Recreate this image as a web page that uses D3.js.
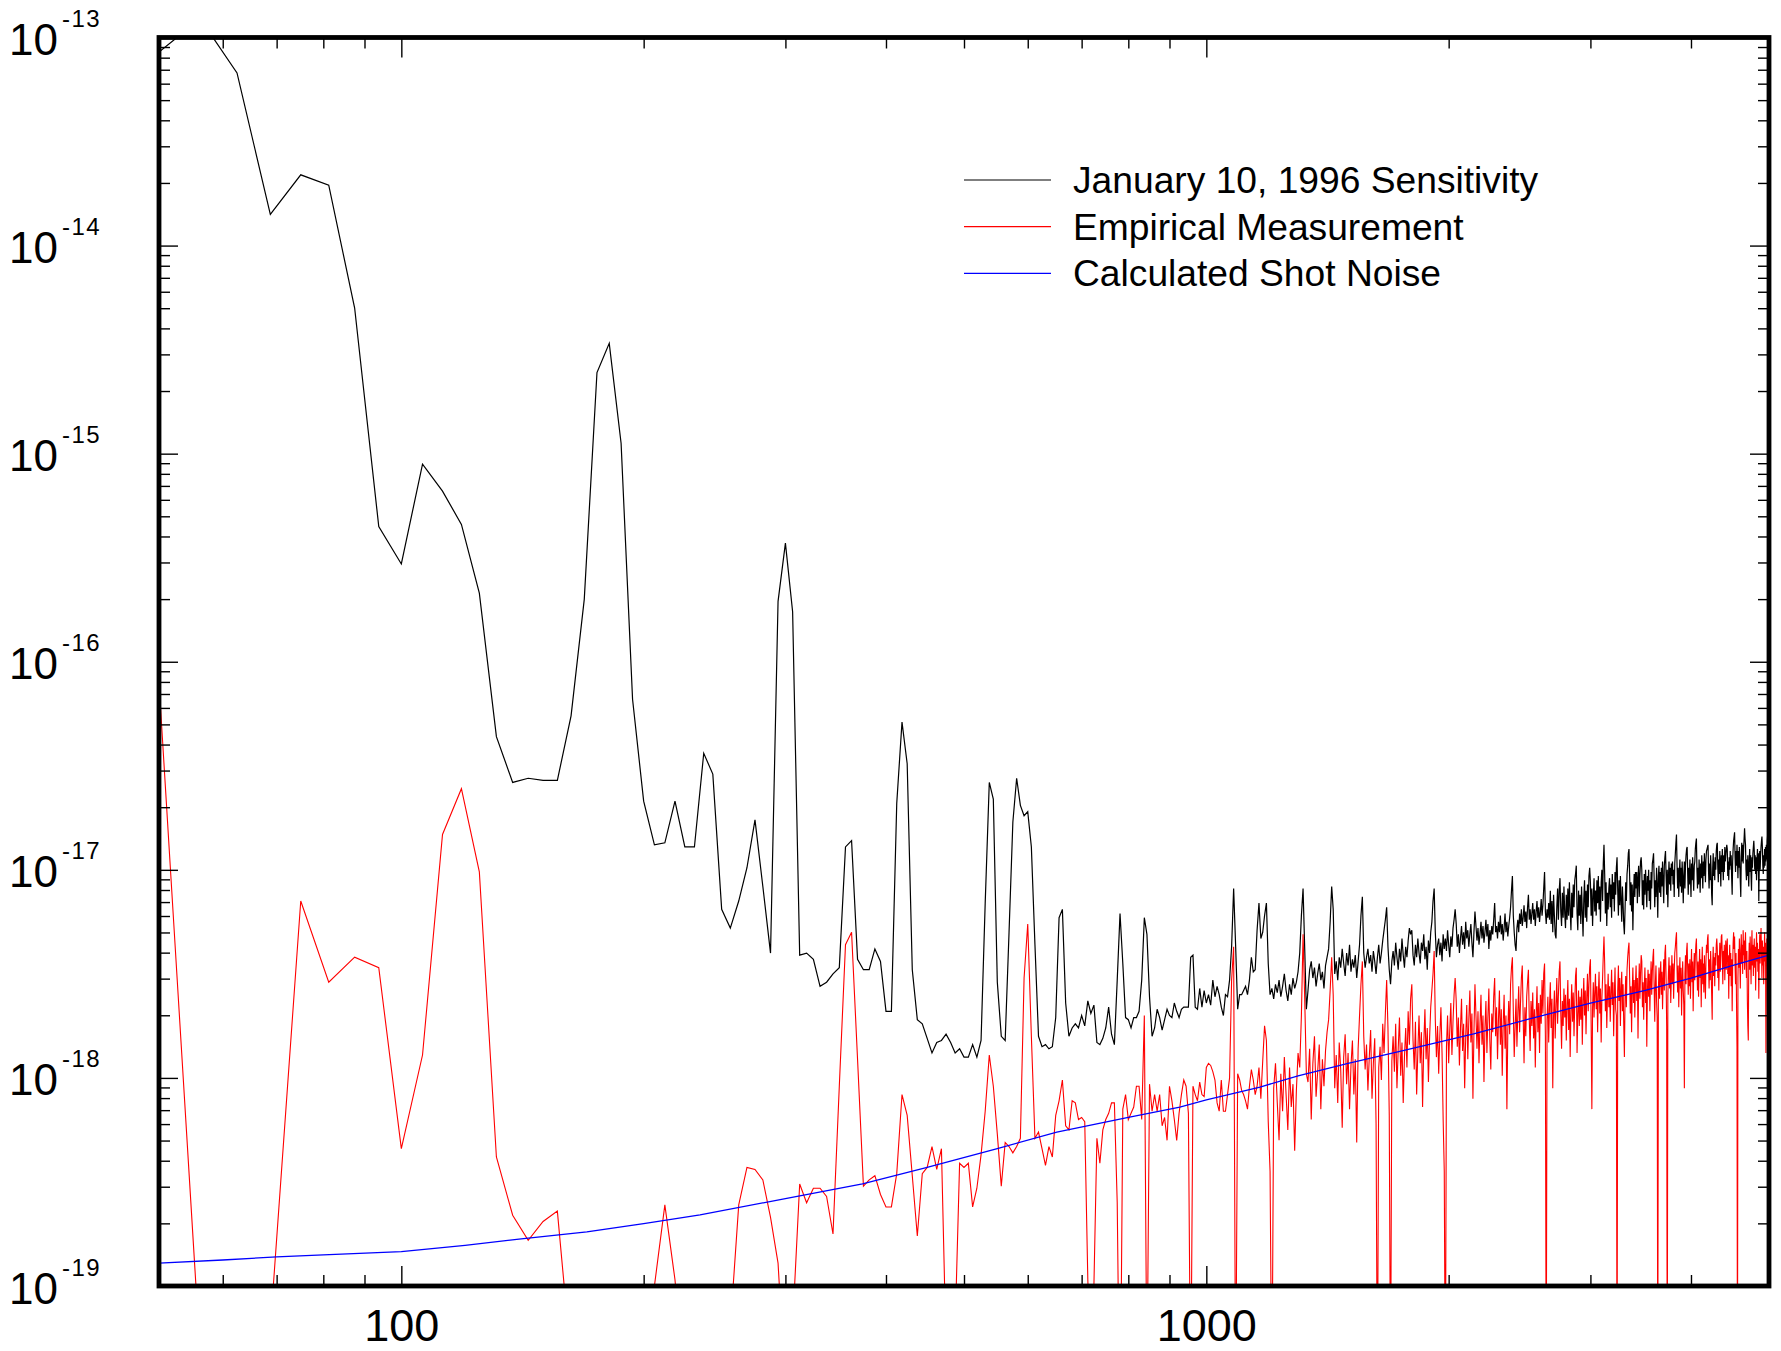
<!DOCTYPE html>
<html><head><meta charset="utf-8">
<script src="https://cdn.jsdelivr.net/npm/d3@7"></script>
<style>body{margin:0;background:#fff}svg{display:block}text{font-family:"Liberation Sans",Arial,Helvetica,sans-serif}</style>
</head><body><svg id="c" width="1781" height="1351"></svg>
<script>
// Frequency grid of both measured spectra: 50 Hz .. 5000 Hz in 6.25 Hz steps
const FREQ_START = 50, FREQ_STEP = 6.25;

// January 10, 1996 Sensitivity (values as log10)
const sensitivityExp = [
-13.07,-12.91,-13.17,-13.85,-13.66,-13.71,-14.30,-15.35,-15.53,-15.05,-15.18,-15.34,-15.67,-16.36,-16.58,-16.56,-16.57,-16.57,-16.26,-15.70,
-14.61,-14.47,-14.95,-16.18,-16.67,-16.88,-16.87,-16.67,-16.89,-16.89,-16.44,-16.54,-17.19,-17.28,-17.15,-16.99,-16.76,-17.08,-17.40,-15.71,
-15.43,-15.76,-17.41,-17.40,-17.43,-17.56,-17.54,-17.50,-17.47,-16.89,-16.86,-17.43,-17.48,-17.48,-17.38,-17.44,-17.68,-17.68,-16.68,-16.29,
-16.49,-17.48,-17.72,-17.74,-17.81,-17.88,-17.83,-17.82,-17.79,-17.83,-17.88,-17.86,-17.90,-17.90,-17.84,-17.90,-17.82,-17.16,-16.58,-16.66,
-17.54,-17.80,-17.82,-17.30,-16.77,-16.56,-16.69,-16.74,-16.72,-16.89,-17.36,-17.80,-17.85,-17.84,-17.86,-17.85,-17.71,-17.23,-17.19,-17.64,
-17.80,-17.76,-17.74,-17.76,-17.70,-17.75,-17.63,-17.69,-17.65,-17.83,-17.84,-17.81,-17.76,-17.66,-17.79,-17.84,-17.53,-17.21,-17.45,-17.71,
-17.72,-17.76,-17.71,-17.71,-17.68,-17.53,-17.23,-17.31,-17.61,-17.80,-17.76,-17.67,-17.71,-17.77,-17.72,-17.67,-17.70,-17.71,-17.64,-17.68,
-17.71,-17.67,-17.66,-17.66,-17.66,-17.42,-17.41,-17.66,-17.67,-17.57,-17.66,-17.58,-17.64,-17.60,-17.65,-17.53,-17.61,-17.56,-17.60,-17.66,
-17.70,-17.60,-17.61,-17.53,-17.37,-17.09,-17.37,-17.67,-17.60,-17.60,-17.58,-17.56,-17.60,-17.53,-17.42,-17.49,-17.48,-17.29,-17.16,
-17.33,-17.30,-17.22,-17.16,-17.45,-17.60,-17.57,-17.62,-17.55,-17.59,-17.53,-17.61,-17.56,-17.50,-17.58,-17.63,-17.55,-17.60,-17.52,-17.57,
-17.54,-17.49,-17.40,-17.22,-17.09,-17.38,-17.67,-17.58,-17.48,-17.44,-17.52,-17.47,-17.56,-17.50,-17.45,-17.53,-17.49,-17.57,-17.46,-17.42,
-17.38,-17.25,-17.08,-17.19,-17.50,-17.44,-17.53,-17.42,-17.47,-17.38,-17.45,-17.51,-17.40,-17.46,-17.36,-17.49,-17.43,-17.47,-17.41,-17.52,
-17.44,-17.36,-17.22,-17.13,-17.40,-17.47,-17.42,-17.38,-17.45,-17.41,-17.49,-17.39,-17.44,-17.50,-17.42,-17.36,-17.45,-17.40,-17.34,-17.29,
-17.24,-17.18,-17.37,-17.48,-17.55,-17.44,-17.39,-17.46,-17.35,-17.42,-17.48,-17.38,-17.44,-17.33,-17.41,-17.47,-17.37,-17.42,-17.34,-17.28,
-17.31,-17.29,-17.41,-17.46,-17.36,-17.42,-17.33,-17.40,-17.45,-17.35,-17.39,-17.31,-17.43,-17.37,-17.48,-17.34,-17.40,-17.30,-17.25,-17.15,
-17.09,-17.30,-17.42,-17.36,-17.33,-17.41,-17.35,-17.44,-17.31,-17.38,-17.33,-17.39,-17.29,-17.36,-17.42,-17.32,-17.37,-17.28,-17.24,-17.19,
-17.26,-17.37,-17.31,-17.40,-17.33,-17.27,-17.36,-17.30,-17.38,-17.25,-17.33,-17.29,-17.37,-17.31,-17.26,-17.35,-17.42,-17.30,-17.20,-17.27,
-17.34,-17.28,-17.36,-17.31,-17.25,-17.33,-17.27,-17.35,-17.30,-17.24,-17.32,-17.26,-17.38,-17.29,-17.34,-17.27,-17.31,-17.24,-17.16,-17.30,
-17.27,-17.33,-17.25,-17.30,-17.22,-17.31,-17.26,-17.34,-17.28,-17.21,-17.30,-17.25,-17.32,-17.27,-17.23,-17.18,-17.10,-17.03,-17.22,-17.30,
-17.36,-17.39,-17.28,-17.24,-17.30,-17.21,-17.26,-17.19,-17.27,-17.23,-17.17,-17.25,-17.20,-17.28,-17.18,-17.12,-17.24,-17.19,-17.26,-17.21,
-17.16,-17.24,-17.19,-17.27,-17.20,-17.15,-17.23,-17.18,-17.25,-17.20,-17.14,-17.22,-17.17,-17.09,-17.01,-17.20,-17.26,-17.19,-17.23,-17.16,
-17.24,-17.10,-17.26,-17.15,-17.30,-17.12,-17.22,-17.31,-17.33,-17.18,-17.09,-17.24,-17.10,-17.04,-17.20,-17.27,-17.11,-17.23,-17.08,-17.21,
-17.28,-17.12,-17.24,-17.09,-17.22,-17.06,-17.19,-17.29,-17.11,-17.23,-17.07,-17.18,-17.05,-17.02,-16.98,-17.21,-17.29,-17.10,-17.22,-17.12,
-17.26,-17.08,-17.20,-17.32,-17.14,-17.05,-17.23,-17.10,-17.25,-17.07,-17.18,-17.03,-16.99,-17.06,-17.22,-17.09,-17.27,-17.13,-17.04,-17.20,
-17.10,-17.22,-17.05,-17.16,-17.03,-17.19,-17.08,-17.25,-17.06,-17.00,-17.15,-16.97,-16.88,-17.02,-17.21,-17.06,-17.27,-17.11,-17.19,-17.09,
-17.04,-17.18,-17.07,-17.23,-17.02,-17.14,-17.06,-17.20,-17.01,-17.12,-16.99,-16.94,-17.10,-17.22,-17.05,-17.17,-17.03,-17.15,-17.25,-17.08,
-17.16,-17.26,-17.31,-17.19,-17.06,-17.15,-17.02,-16.98,-16.92,-16.90,-17.03,-17.17,-17.06,-17.20,-17.07,-17.29,-17.12,-17.02,-17.13,-17.01,
-17.09,-17.01,-17.16,-17.04,-16.98,-17.13,-17.03,-16.96,-16.94,-17.00,-17.17,-17.05,-17.19,-17.02,-17.12,-17.00,-17.08,-17.18,-17.03,-17.10,
-17.00,-17.15,-17.05,-17.19,-17.01,-17.09,-16.97,-16.95,-16.92,-17.04,-17.18,-17.05,-17.13,-16.99,-17.08,-17.23,-17.03,-16.98,-17.11,-17.01,
-17.13,-16.99,-17.08,-16.96,-17.06,-17.16,-16.98,-16.94,-16.91,-17.03,-17.12,-17.00,-17.18,-17.04,-16.96,-17.07,-16.99,-17.10,-16.97,-17.03,
-16.96,-17.07,-17.00,-17.13,-16.97,-16.92,-16.87,-16.83,-16.98,-17.09,-16.99,-17.13,-17.02,-16.95,-17.08,-16.99,-17.11,-16.96,-17.04,-17.16,
-17.03,-16.96,-17.09,-16.98,-16.93,-16.90,-16.89,-17.02,-17.12,-16.99,-17.07,-16.95,-17.03,-17.13,-16.97,-17.05,-16.94,-17.02,-17.10,-16.98,
-16.96,-16.90,-16.87,-16.85,-17.00,-17.09,-16.99,-17.07,-16.95,-17.02,-17.11,-16.97,-17.04,-16.93,-17.00,-17.09,-16.96,-17.03,-16.92,-16.99,
-17.06,-16.95,-16.91,-16.90,-16.89,-16.88,-17.01,-17.09,-16.97,-17.05,-16.93,-17.01,-17.12,-17.17,-16.99,-16.92,-17.03,-16.96,-17.05,-16.94,
-17.00,-16.91,-16.88,-16.87,-16.99,-17.06,-16.95,-17.02,-16.91,-16.98,-17.08,-16.93,-17.01,-16.90,-16.97,-17.05,-16.93,-17.01,-16.89,-16.96,
-16.93,-16.90,-16.88,-16.90,-17.03,-16.96,-17.05,-16.94,-17.00,-16.91,-16.98,-16.93,-17.04,-17.12,-16.96,-16.90,-16.86,-16.84,-16.82,-16.94,
-17.01,-16.91,-16.98,-16.88,-16.95,-17.04,-16.91,-16.99,-16.89,-16.97,-17.06,-17.13,-16.94,-16.87,-16.96,-16.88,-16.97,-16.90,-16.85,-16.80,
-16.85,-16.88,-17.00,-17.05,-16.95,-17.03,-16.93,-17.01,-17.08,-16.96,-16.90,-17.01,-16.93,-17.03,-17.10,-16.94,-16.99,-16.92,-16.89,-16.86,
-16.91,-17.00,-16.93,-17.02,-16.94,-17.05,-16.95,-16.90,-17.00,-16.92,-17.15,-16.98,-16.91,-17.00,-16.93,-16.89,-16.86,-16.84,-16.89,-16.98,
-17.02,-16.93,-16.99,-16.90,-16.98,-16.89,-16.96,-16.88,-16.95,-16.86,-16.83,-16.91,-16.99,-16.94
];

// Empirical Measurement (values as log10)
const empiricalExp = [
-16.10,-19.33,-19.60,-19.20,-17.15,-17.54,-17.42,-17.47,-18.34,-17.89,-16.83,-16.61,-17.01,-18.38,-18.66,-18.78,-18.69,-18.64,-19.36,-19.60,
-19.80,-19.70,-19.60,-19.50,-19.40,-19.00,-18.61,-18.97,-19.50,-19.50,-19.70,-19.60,-19.50,-19.20,-18.61,-18.43,-18.44,-18.49,-18.67,-18.89,
-19.50,-19.19,-18.51,-18.60,-18.53,-18.53,-18.57,-18.75,-18.04,-17.36,-17.30,-17.91,-18.52,-18.49,-18.47,-18.56,-18.62,-18.62,-18.46,-18.08,
-18.18,-18.47,-18.76,-18.46,-18.43,-18.33,-18.44,-18.34,-19.30,-19.50,-19.20,-18.41,-18.43,-18.41,-18.62,-18.53,-18.37,-18.16,-17.89,-18.04,
-18.27,-18.52,-18.31,-18.33,-18.36,-18.33,-18.29,-17.52,-17.26,-17.80,-18.29,-18.26,-18.34,-18.42,-18.33,-18.38,-18.18,-18.11,-18.01,-18.23,
-18.25,-18.11,-18.12,-18.20,-18.19,-18.21,-18.97,-19.40,-19.00,-18.29,-18.41,-18.25,-18.20,-18.17,-18.12,-18.12,-18.60,-19.80,-18.15,-18.08,
-18.20,-18.17,-18.14,-18.04,-18.04,-18.20,-17.70,-19.50,-18.03,-18.16,-18.08,-18.16,-18.08,-18.23,-18.19,-18.30,-18.04,-18.11,-18.20,-18.30,
-18.17,-18.08,-18.01,-18.04,-18.17,-19.60,-18.04,-18.08,-18.11,-18.02,-18.08,-18.09,-17.95,-17.93,-17.94,-17.97,-18.01,-18.12,-18.16,-18.01,
-18.16,-18.16,-18.08,-18.00,-17.53,-17.37,-19.60,-17.98,-18.01,-18.06,-18.08,-18.11,-18.15,-18.04,-17.96,-18.01,-18.08,-18.04,-17.95,
-18.10,-17.92,-17.75,-17.82,-18.21,-18.45,-19.60,-18.05,-17.93,-18.12,-18.30,-17.98,-18.16,-17.90,-18.08,-18.25,-17.95,-18.14,-18.03,-18.35,
-18.06,-17.88,-17.95,-17.70,-17.31,-17.62,-17.98,-18.02,-17.86,-18.20,-17.93,-17.80,-18.09,-17.97,-17.84,-18.15,-17.91,-18.04,-17.87,-17.78,
-17.72,-17.58,-17.42,-17.60,-18.05,-17.89,-18.12,-17.83,-17.96,-18.24,-17.90,-17.79,-18.03,-17.88,-18.15,-17.94,-17.82,-18.08,-17.91,-18.31,
-17.86,-17.70,-17.55,-17.44,-17.80,-17.96,-17.84,-18.06,-17.90,-17.77,-18.10,-17.93,-17.81,-18.22,-19.60,-17.95,-17.85,-18.01,-17.74,-17.88,
-17.69,-17.53,-17.76,-18.18,-19.55,-17.92,-17.80,-17.97,-17.74,-18.05,-17.86,-17.71,-17.99,-17.83,-18.12,-17.90,-17.76,-17.95,-17.68,-17.84,
-17.62,-17.55,-17.82,-17.96,-17.73,-18.08,-17.87,-17.70,-17.93,-17.78,-18.14,-17.84,-17.67,-17.91,-17.76,-18.02,-17.81,-17.66,-17.58,-17.50,
-17.39,-17.72,-17.90,-17.75,-17.98,-17.80,-17.66,-17.88,-18.20,-18.45,-19.60,-17.85,-17.70,-17.93,-17.77,-17.64,-17.89,-17.73,-17.60,-17.52,
-17.63,-17.85,-17.71,-17.94,-17.76,-17.62,-17.87,-17.74,-18.05,-17.80,-17.65,-17.91,-17.72,-17.58,-17.83,-17.69,-18.10,-17.78,-17.55,-17.70,
-17.86,-17.68,-17.93,-17.74,-17.60,-17.84,-17.70,-18.02,-17.76,-17.63,-17.88,-17.71,-17.57,-17.82,-17.96,-17.69,-17.78,-17.61,-17.52,-17.80,
-17.66,-17.91,-17.72,-17.58,-17.84,-17.67,-17.99,-17.74,-17.60,-17.86,-17.70,-18.15,-17.77,-17.63,-17.79,-17.55,-17.47,-17.42,-17.68,-17.90,
-17.75,-17.62,-17.85,-17.69,-17.56,-17.78,-17.64,-17.52,-17.46,-17.70,-17.93,-17.66,-17.80,-17.61,-17.54,-17.48,-17.72,-17.87,-17.63,-17.75,
-17.59,-17.81,-17.67,-17.95,-17.70,-17.56,-17.78,-17.64,-17.88,-17.60,-17.74,-17.53,-17.69,-17.50,-17.45,-17.80,-19.60,-17.72,-17.61,-17.83,
-17.66,-17.54,-17.76,-17.62,-18.05,-17.70,-17.58,-17.81,-17.65,-17.52,-17.74,-17.60,-17.49,-17.44,-17.69,-17.86,-17.63,-17.75,-17.57,-17.71,
-17.60,-17.82,-17.65,-17.53,-17.77,-17.62,-17.90,-17.68,-17.55,-17.73,-17.59,-17.80,-17.64,-17.51,-17.47,-17.88,-17.70,-17.58,-17.75,-17.61,
-17.72,-17.57,-17.84,-17.63,-17.52,-17.70,-17.58,-17.79,-17.61,-17.50,-17.68,-17.55,-17.47,-17.43,-17.74,-18.15,-17.66,-17.54,-17.71,-17.59,
-17.50,-17.67,-17.56,-17.78,-17.60,-17.49,-17.69,-17.57,-17.83,-17.62,-17.52,-17.41,-17.32,-17.45,-17.68,-17.55,-17.76,-17.61,-17.50,-17.66,
-17.56,-17.73,-17.59,-17.48,-17.65,-17.54,-17.80,-17.60,-17.47,-17.67,-17.70,-19.60,-17.58,-17.46,-17.63,-17.52,-17.75,-17.57,-17.49,-17.68,
-17.55,-17.74,-17.90,-17.62,-17.51,-17.66,-17.48,-17.42,-17.38,-17.35,-17.52,-17.69,-17.56,-17.78,-17.58,-17.47,-17.64,-17.53,-17.71,-17.55,
-17.46,-17.63,-17.52,-17.81,-17.57,-17.45,-17.62,-17.50,-17.41,-17.44,-17.66,-17.54,-17.72,-17.56,-17.47,-17.64,-17.52,-17.85,-17.59,-17.48,
-17.61,-17.50,-17.68,-17.54,-17.44,-17.60,-17.49,-17.42,-17.38,-17.57,-17.73,-17.55,-17.46,-17.63,-17.71,-19.60,-17.58,-17.47,-17.62,-17.51,
-17.44,-17.60,-17.49,-17.67,-17.53,-17.43,-17.58,-17.40,-17.36,-17.52,-17.75,-19.60,-17.61,-17.50,-17.42,-17.57,-17.46,-17.64,-17.52,-17.41,
-17.55,-17.45,-17.62,-17.49,-17.40,-17.37,-17.33,-17.30,-17.48,-17.59,-17.46,-17.66,-17.51,-17.42,-17.57,-17.47,-17.70,-17.53,-17.44,-17.58,
-17.65,-18.05,-17.50,-17.41,-17.55,-17.39,-17.35,-17.48,-17.60,-17.45,-17.56,-17.43,-17.62,-17.49,-17.38,-17.54,-17.44,-17.68,-17.50,-17.40,
-17.53,-17.42,-17.36,-17.33,-17.47,-17.58,-17.44,-17.61,-17.48,-17.38,-17.52,-17.43,-17.66,-17.47,-17.37,-17.55,-17.45,-17.59,-17.41,-17.50,
-17.62,-17.44,-17.36,-17.40,-17.33,-17.31,-17.46,-17.57,-17.43,-17.53,-17.39,-17.48,-17.60,-17.72,-17.45,-17.37,-17.51,-17.42,-17.56,-17.40,
-17.46,-17.36,-17.33,-17.38,-17.52,-17.41,-17.58,-17.44,-17.35,-17.49,-17.40,-17.32,-17.31,-17.43,-17.55,-17.39,-17.47,-17.36,-17.53,-17.42,
-17.34,-17.48,-17.38,-17.33,-17.50,-17.41,-17.62,-17.45,-17.36,-17.51,-17.40,-17.56,-17.43,-17.68,-17.47,-17.35,-17.30,-17.38,-17.32,-17.46,
-17.55,-17.40,-17.63,-17.85,-19.60,-17.52,-17.38,-17.47,-17.33,-17.44,-17.57,-17.39,-17.31,-17.45,-17.36,-17.50,-17.29,-17.41,-17.34,-17.48,
-17.37,-17.30,-17.44,-17.52,-17.39,-17.63,-17.75,-17.82,-17.45,-17.35,-17.48,-17.32,-17.42,-17.55,-17.38,-17.29,-17.46,-17.36,-17.51,-17.40,
-17.33,-17.47,-17.37,-17.58,-17.41,-17.30,-17.44,-17.35,-17.49,-17.38,-17.62,-17.43,-17.31,-17.45,-17.36,-17.28,-17.40,-17.52,-17.34,-17.46,
-17.37,-17.55,-17.41,-17.30,-17.44,-17.35,-17.88,-17.48,-17.33,-17.42,-17.29,-17.45,-17.36,-17.40
];

// Calculated Shot Noise (frequency, log10 value)
const shotNoiseFreq = [50,60,70,80,100,120,140,170,200,235,300,374,450,550,652,800,927,1000,1166,1300,1500,1750,2148,2500,3000,3500,4000,4500,5000];
const shotNoiseExp = [-18.89,-18.875,-18.86,-18.85,-18.835,-18.805,-18.775,-18.74,-18.70,-18.658,-18.58,-18.509,-18.43,-18.34,-18.26,-18.19,-18.14,-18.105,-18.044,-17.99,-17.93,-17.87,-17.788,-17.72,-17.64,-17.58,-17.52,-17.46,-17.41];

const xMajorTicks = [100, 1000];
const xMinorTicks = [60,70,80,90,200,300,400,500,600,700,800,900,2000,3000,4000];
const yMajorExponents = [-13,-14,-15,-16,-17,-18,-19];
const legendLabels = ["January 10, 1996 Sensitivity","Empirical Measurement","Calculated Shot Noise"];
const seriesColors = ["#000000","#ff0000","#0000ff"];

// ---------- drawing ----------
const L = 159, R = 1769, T = 37.5, B = 1286;
const svg = d3.select("#c");
const x = d3.scaleLog().domain([50, 5000]).range([L, R]);
const y = d3.scaleLog().domain([1e-19, 1e-13]).range([B, T]);

svg.append("defs").append("clipPath").attr("id","plot")
  .append("rect").attr("x",L).attr("y",T).attr("width",R-L).attr("height",B-T);

const toSeries = exps => exps.map((e,i) => ({f: FREQ_START + i*FREQ_STEP, v: Math.pow(10, e)}));
const sensitivity = toSeries(sensitivityExp);
const empirical = toSeries(empiricalExp);
const shot = shotNoiseFreq.map((f,i) => ({f, v: Math.pow(10, shotNoiseExp[i])}));

const line = d3.line().x(d => x(d.f)).y(d => y(d.v));
const plot = svg.append("g").attr("clip-path","url(#plot)");
[[sensitivity,1.2],[empirical,1.1],[shot,1.3]].forEach(([data,w],i) => {
  plot.append("path").datum(data).attr("d", line)
    .attr("fill","none").attr("stroke", seriesColors[i]).attr("stroke-width", w)
    .attr("stroke-linejoin","miter");
});

// ticks
function clean(sel){
  sel.select(".domain").remove();
  sel.selectAll(".tick line").attr("stroke","#000").attr("stroke-width",1.4);
  sel.attr("font-family",null).attr("font-size",null);
}
const yMinor = [];
for (let e = -19; e < -13; e++) for (let m = 2; m <= 9; m++) yMinor.push(m * Math.pow(10, e));
const yMajor = yMajorExponents.map(e => Math.pow(10, e));

svg.append("g").attr("transform",`translate(0,${B})`)
  .call(d3.axisBottom(x).tickValues(xMinorTicks).tickSize(-11).tickFormat("")).call(clean);
const xm = svg.append("g").attr("transform",`translate(0,${B})`)
  .call(d3.axisBottom(x).tickValues(xMajorTicks).tickSize(-20).tickPadding(23).tickFormat(d3.format("d")));
clean(xm);
xm.selectAll(".tick text").attr("font-size",45).attr("fill","#000")
  .attr("font-family",'"Liberation Sans",Arial,sans-serif');

svg.append("g").attr("transform",`translate(0,${T})`)
  .call(d3.axisTop(x).tickValues(xMinorTicks).tickSize(-11).tickFormat("")).call(clean);
svg.append("g").attr("transform",`translate(0,${T})`)
  .call(d3.axisTop(x).tickValues(xMajorTicks).tickSize(-20).tickFormat("")).call(clean);

svg.append("g").attr("transform",`translate(${L},0)`)
  .call(d3.axisLeft(y).tickValues(yMinor).tickSize(-11).tickFormat("")).call(clean);
const ym = svg.append("g").attr("transform",`translate(${L},0)`)
  .call(d3.axisLeft(y).tickValues(yMajor).tickSize(-19).tickFormat(""));
clean(ym);
ym.selectAll(".tick").each(function(d){
  const e = Math.round(Math.log10(d));
  const t = d3.select(this).append("text")
    .attr("x", 9 - L).attr("y", 17)
    .attr("text-anchor","start").attr("fill","#000").attr("font-size",44)
    .attr("font-family",'"Liberation Sans",Arial,sans-serif');
  t.append("tspan").text("10");
  t.append("tspan").attr("dx",4).attr("dy",-28).attr("font-size",24)
    .attr("letter-spacing",1.5).text(String(e));
});

svg.append("g").attr("transform",`translate(${R},0)`)
  .call(d3.axisRight(y).tickValues(yMinor).tickSize(-11).tickFormat("")).call(clean);
svg.append("g").attr("transform",`translate(${R},0)`)
  .call(d3.axisRight(y).tickValues(yMajor).tickSize(-19).tickFormat("")).call(clean);

// frame
svg.append("rect").attr("x",L).attr("y",T).attr("width",R-L).attr("height",B-T)
  .attr("fill","none").attr("stroke","#000").attr("stroke-width",4.8);

// legend
const legend = svg.append("g");
const rowY = [180, 226.7, 273.3];
legendLabels.forEach((lab,i) => {
  legend.append("line").attr("x1",964).attr("x2",1051).attr("y1",rowY[i]).attr("y2",rowY[i])
    .attr("stroke",seriesColors[i]).attr("stroke-width",1.2);
  legend.append("text").attr("x",1073).attr("y",rowY[i]+13).attr("font-size",37.2)
    .attr("fill","#000").text(lab);
});
</script>
</body></html>
